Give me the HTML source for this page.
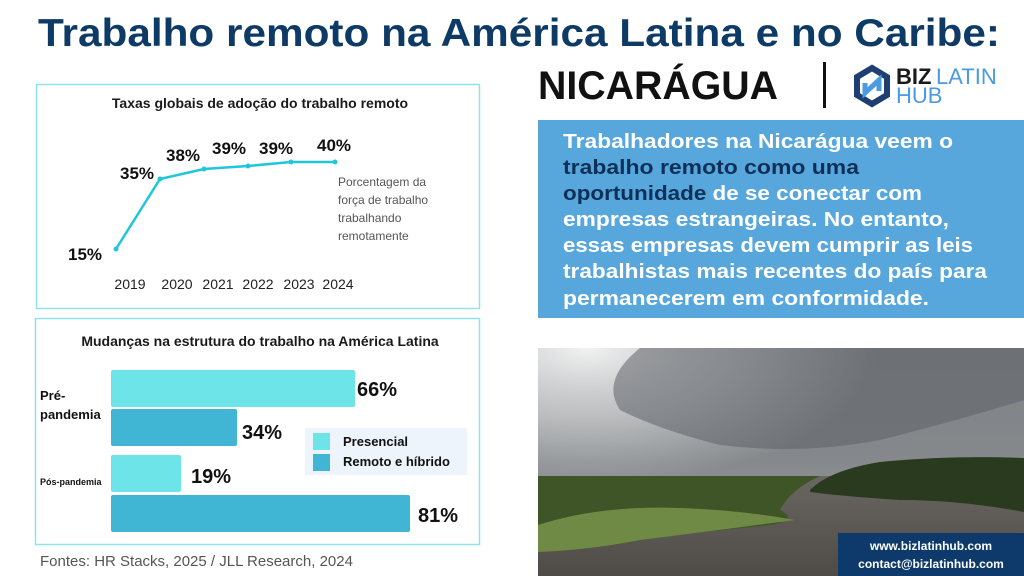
<!DOCTYPE html>
<html><head><meta charset="utf-8"><style>
html,body{margin:0;padding:0;background:#fff}
svg{display:block}
text{font-family:"Liberation Sans","DejaVu Sans",sans-serif}
</style></head><body>
<svg width="1024" height="576" viewBox="0 0 1024 576" xmlns="http://www.w3.org/2000/svg">
<defs>
<linearGradient id="sky" x1="0" y1="0" x2="0" y2="1">
<stop offset="0" stop-color="#7e8286"/><stop offset="0.5" stop-color="#85898c"/><stop offset="1" stop-color="#a7a9aa"/>
</linearGradient>
<radialGradient id="bright" cx="0.1" cy="0" r="0.6">
<stop offset="0" stop-color="#f2f2f2"/><stop offset="0.5" stop-color="#d5d6d7" stop-opacity="0.7"/><stop offset="1" stop-color="#d5d6d7" stop-opacity="0"/>
</radialGradient>
<linearGradient id="water" x1="0" y1="0" x2="0" y2="1">
<stop offset="0" stop-color="#6a6661"/><stop offset="1" stop-color="#4e4b47"/>
</linearGradient>
</defs>
<rect width="1024" height="576" fill="#fff"/>
<text x="38" y="46" font-size="39" font-weight="bold" fill="#0e3a66" textLength="962" lengthAdjust="spacingAndGlyphs">Trabalho remoto na América Latina e no Caribe:</text>
<text x="538" y="99" font-size="40" font-weight="bold" fill="#111" textLength="240" lengthAdjust="spacingAndGlyphs">NICARÁGUA</text>
<rect x="823" y="62" width="3" height="46" fill="#111"/>
<g transform="translate(872,85)">
<polygon points="0,-17 15,-8 15,10 0,19 -15,10 -15,-8" fill="none" stroke="#1f3f73" stroke-width="6"/>
<path d="M-7,-2 L-7,8 L7,-5 L7,6" fill="none" stroke="#4a9be0" stroke-width="5"/>
</g>
<text x="896" y="84" font-size="22" font-weight="bold" fill="#1a1a1a">BIZ</text>
<text x="936" y="84" font-size="22" fill="#4a9be0">LATIN</text>
<text x="896" y="103" font-size="22" fill="#4a9be0">HUB</text>

<rect x="538" y="120" width="486" height="198" fill="#57a7dc"/>
<g font-size="20" font-weight="bold" fill="#fff">
<text x="563" y="148" textLength="390" lengthAdjust="spacingAndGlyphs">Trabalhadores na Nicarágua veem o</text>
<text x="563" y="174" fill="#0e3058" textLength="296" lengthAdjust="spacingAndGlyphs">trabalho remoto como uma</text>
<text x="563" y="200" textLength="359" lengthAdjust="spacingAndGlyphs"><tspan fill="#0e3058">oportunidade</tspan> de se conectar com</text>
<text x="563" y="226" textLength="386" lengthAdjust="spacingAndGlyphs">empresas estrangeiras. No entanto,</text>
<text x="563" y="252" textLength="410" lengthAdjust="spacingAndGlyphs">essas empresas devem cumprir as leis</text>
<text x="563" y="278" textLength="424" lengthAdjust="spacingAndGlyphs">trabalhistas mais recentes do país para</text>
<text x="563" y="305" textLength="366" lengthAdjust="spacingAndGlyphs">permanecerem em conformidade.</text>
</g>

<!-- photo -->
<rect x="538" y="348" width="486" height="228" fill="url(#sky)"/>
<rect x="538" y="348" width="486" height="228" fill="url(#bright)"/>
<path d="M640,348 H1024 V400 Q960,420 880,440 Q800,455 720,445 Q660,430 620,410 Q600,380 640,348Z" fill="#5f6367" opacity="0.55"/>
<rect x="538" y="476" width="486" height="100" fill="url(#water)"/>
<path d="M538,476 L820,476 Q790,490 780,510 Q800,520 770,525 Q700,532 640,540 Q580,548 538,552Z" fill="#3f5528"/>
<path d="M538,525 Q600,505 680,508 Q740,510 795,520 Q720,530 640,540 Q590,550 538,552Z" fill="#6f8a45"/>
<path d="M810,490 Q830,470 880,462 Q950,455 1024,458 L1024,512 Q960,500 900,500 Q840,496 810,492Z" fill="#2a3a1e"/>
<rect x="838" y="533" width="186" height="43" fill="#0d3a6b"/>
<text x="931" y="550" font-size="12" font-weight="bold" fill="#fff" text-anchor="middle">www.bizlatinhub.com</text>
<text x="931" y="568" font-size="12" font-weight="bold" fill="#fff" text-anchor="middle">contact@bizlatinhub.com</text>

<!-- chart 1 -->
<rect x="36.5" y="84.5" width="443" height="224" fill="none" stroke="#8ee4ee" stroke-width="1.5"/>
<text x="260" y="108" font-size="14" font-weight="bold" fill="#1a1a1a" text-anchor="middle">Taxas globais de adoção do trabalho remoto</text>
<polyline points="116,249 160,179 204,169 248,166 291,162 335,162" fill="none" stroke="#20c6dc" stroke-width="2.5"/>
<g fill="#20c6dc"><circle cx="116" cy="249" r="2.5"/><circle cx="160" cy="179" r="2.5"/><circle cx="204" cy="169" r="2.5"/><circle cx="248" cy="166" r="2.5"/><circle cx="291" cy="162" r="2.5"/><circle cx="335" cy="162" r="2.5"/></g>
<g font-size="17" font-weight="bold" fill="#111" text-anchor="middle">
<text x="85" y="260">15%</text><text x="137" y="179">35%</text><text x="183" y="161">38%</text><text x="229" y="154">39%</text><text x="276" y="154">39%</text><text x="334" y="151">40%</text>
</g>
<g font-size="14" fill="#222" text-anchor="middle">
<text x="130" y="289">2019</text><text x="177" y="289">2020</text><text x="218" y="289">2021</text><text x="258" y="289">2022</text><text x="299" y="289">2023</text><text x="338" y="289">2024</text>
</g>
<g font-size="12" fill="#555">
<text x="338" y="186">Porcentagem da</text><text x="338" y="204">força de trabalho</text><text x="338" y="222">trabalhando</text><text x="338" y="240">remotamente</text>
</g>

<!-- chart 2 -->
<rect x="35.5" y="318.5" width="444" height="226" fill="none" stroke="#8ee4ee" stroke-width="1.5"/>
<text x="260" y="346" font-size="14" font-weight="bold" fill="#1a1a1a" text-anchor="middle">Mudanças na estrutura do trabalho na América Latina</text>
<rect x="111" y="370" width="244" height="37" rx="2" fill="#6ce4e8"/>
<rect x="111" y="409" width="126" height="37" rx="2" fill="#40b6d4"/>
<rect x="111" y="455" width="70" height="37" rx="2" fill="#6ce4e8"/>
<rect x="111" y="495" width="299" height="37" rx="2" fill="#40b6d4"/>
<g font-size="20" font-weight="bold" fill="#111">
<text x="357" y="396">66%</text><text x="242" y="439">34%</text><text x="191" y="483">19%</text><text x="418" y="522">81%</text>
</g>
<text x="40" y="400" font-size="13" font-weight="bold" fill="#111">Pré-</text>
<text x="40" y="419" font-size="13" font-weight="bold" fill="#111">pandemia</text>
<text x="40" y="485" font-size="9" font-weight="bold" fill="#111">Pós-pandemia</text>
<rect x="305" y="428" width="162" height="47" fill="#edf4fb"/>
<rect x="313" y="433" width="17" height="17" fill="#6ce4e8"/>
<rect x="313" y="454" width="17" height="17" fill="#40b6d4"/>
<text x="343" y="446" font-size="13" font-weight="bold" fill="#111">Presencial</text>
<text x="343" y="466" font-size="13" font-weight="bold" fill="#111">Remoto e híbrido</text>
<text x="40" y="566" font-size="15" fill="#555">Fontes: HR Stacks, 2025 / JLL Research, 2024</text>
</svg>
</body></html>
